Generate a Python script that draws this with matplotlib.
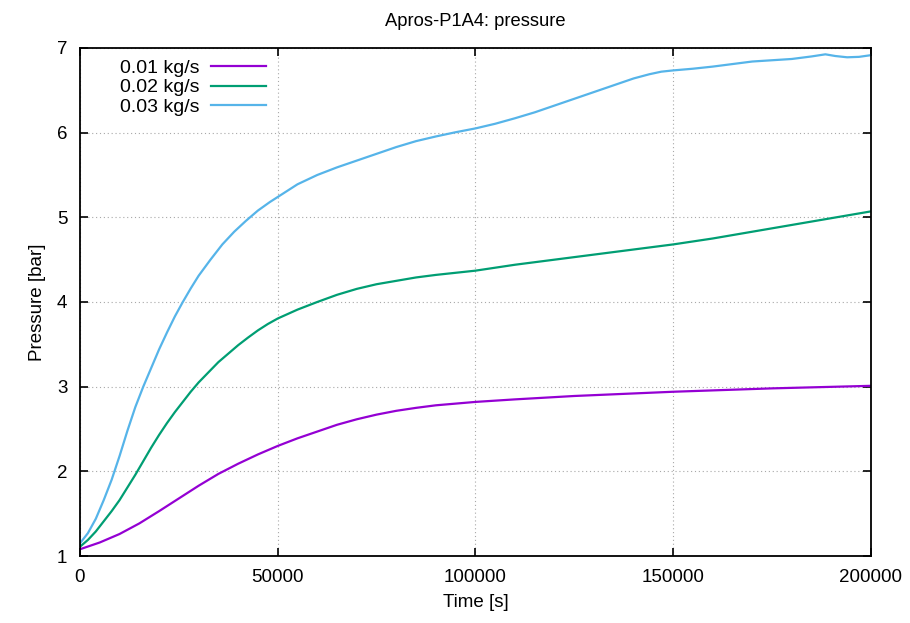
import matplotlib
matplotlib.use("Agg")
import matplotlib.pyplot as plt

# pressure history, three mass flow rates
t_001 = [0, 5000, 10000, 15000, 20000, 25000, 30000, 35000, 40000, 45000, 50000,
         55000, 60000, 65000, 70000, 75000, 80000, 85000, 90000, 95000, 100000,
         110000, 125000, 150000, 175000, 200000]
p_001 = [1.08, 1.16, 1.26, 1.385, 1.53, 1.68, 1.83, 1.97, 2.09, 2.20, 2.30,
         2.39, 2.47, 2.55, 2.615, 2.67, 2.715, 2.75, 2.78, 2.80, 2.82,
         2.85, 2.89, 2.94, 2.98, 3.01]

t_002 = [0, 2000, 4000, 6000, 8000, 10000, 12000, 14000, 16000, 18000, 20000,
         22000, 24000, 26000, 28000, 30000, 32500, 35000, 37500, 40000, 42500,
         45000, 47500, 50000, 55000, 60000, 65000, 70000, 75000, 80000, 85000,
         90000, 95000, 100000, 110000, 120000, 130000, 140000, 150000, 160000,
         170000, 180000, 190000, 200000]
p_002 = [1.11, 1.19, 1.29, 1.41, 1.53, 1.66, 1.81, 1.96, 2.12, 2.28, 2.43,
         2.57, 2.70, 2.82, 2.94, 3.05, 3.17, 3.29, 3.39, 3.49, 3.58,
         3.665, 3.74, 3.805, 3.91, 4.00, 4.085, 4.155, 4.21, 4.25, 4.29,
         4.32, 4.345, 4.37, 4.44, 4.50, 4.56, 4.62, 4.68, 4.75,
         4.83, 4.91, 4.99, 5.07]

t_003 = [0, 2000, 4000, 6000, 8000, 10000, 12000, 14000, 16000, 18000, 20000,
         22000, 24000, 26000, 28000, 30000, 33000, 36000, 39000, 42000, 45000,
         48000, 51000, 55000, 60000, 65000, 70000, 75000, 80000, 85000, 90000,
         95000, 100000, 105000, 110000, 115000, 120000, 125000, 130000, 135000,
         140000, 144000, 147000, 150000, 155000, 160000, 165000, 170000, 175000,
         180000, 185000, 188500, 191000, 194000, 197000, 200000]
p_003 = [1.15, 1.27, 1.44, 1.66, 1.90, 2.18, 2.48, 2.76, 3.00, 3.22, 3.44,
         3.64, 3.83, 4.00, 4.16, 4.31, 4.50, 4.68, 4.83, 4.96, 5.08,
         5.18, 5.27, 5.39, 5.50, 5.59, 5.67, 5.75, 5.83, 5.90, 5.955,
         6.005, 6.05, 6.105, 6.17, 6.24, 6.32, 6.40, 6.48, 6.56,
         6.64, 6.69, 6.72, 6.735, 6.755, 6.78, 6.81, 6.84, 6.855,
         6.87, 6.90, 6.925, 6.905, 6.89, 6.895, 6.915]

labels = ["0.01 kg/s", "0.02 kg/s", "0.03 kg/s"]
colors = ["#9400d3", "#009e73", "#56b4e9"]

plt.rcParams['font.family'] = ['Liberation Sans', 'DejaVu Sans']
plt.rcParams['font.size'] = 13.5

fig = plt.figure(figsize=(9.1, 6.23), dpi=100)
ax = fig.add_axes([0.0879, 0.1075, 0.8691, 0.8155])

for t, p, lab, c in zip([t_001, t_002, t_003], [p_001, p_002, p_003], labels, colors):
    ax.plot(t, p, color=c, lw=1.6, label=lab)

ax.set_xlim(0, 200000)
ax.set_ylim(1, 7)
ax.set_xticks([0, 50000, 100000, 150000, 200000])
ax.set_yticks([1, 2, 3, 4, 5, 6, 7])
ax.ticklabel_format(style='plain', useOffset=False)

ax.grid(True, color='#a8a8a8', linestyle=(0, (1, 2.5)), lw=0.8)
ax.tick_params(direction='in', length=6, width=1.2, top=True, right=True, pad=9)
for s in ax.spines.values():
    s.set_linewidth(1.3)

ax.set_title("Apros-P1A4: pressure", pad=16, fontsize=13.2)
ax.set_xlabel("Time [s]", labelpad=6)
ax.set_ylabel("Pressure [bar]", labelpad=8)

ax.legend(loc='upper left', bbox_to_anchor=(0.0506, 0.978), frameon=False,
          markerfirst=False, handlelength=2.8, handletextpad=0.6,
          labelspacing=0.1, borderaxespad=0, borderpad=0, fontsize=14)

fig.savefig("out.png", dpi=100)
